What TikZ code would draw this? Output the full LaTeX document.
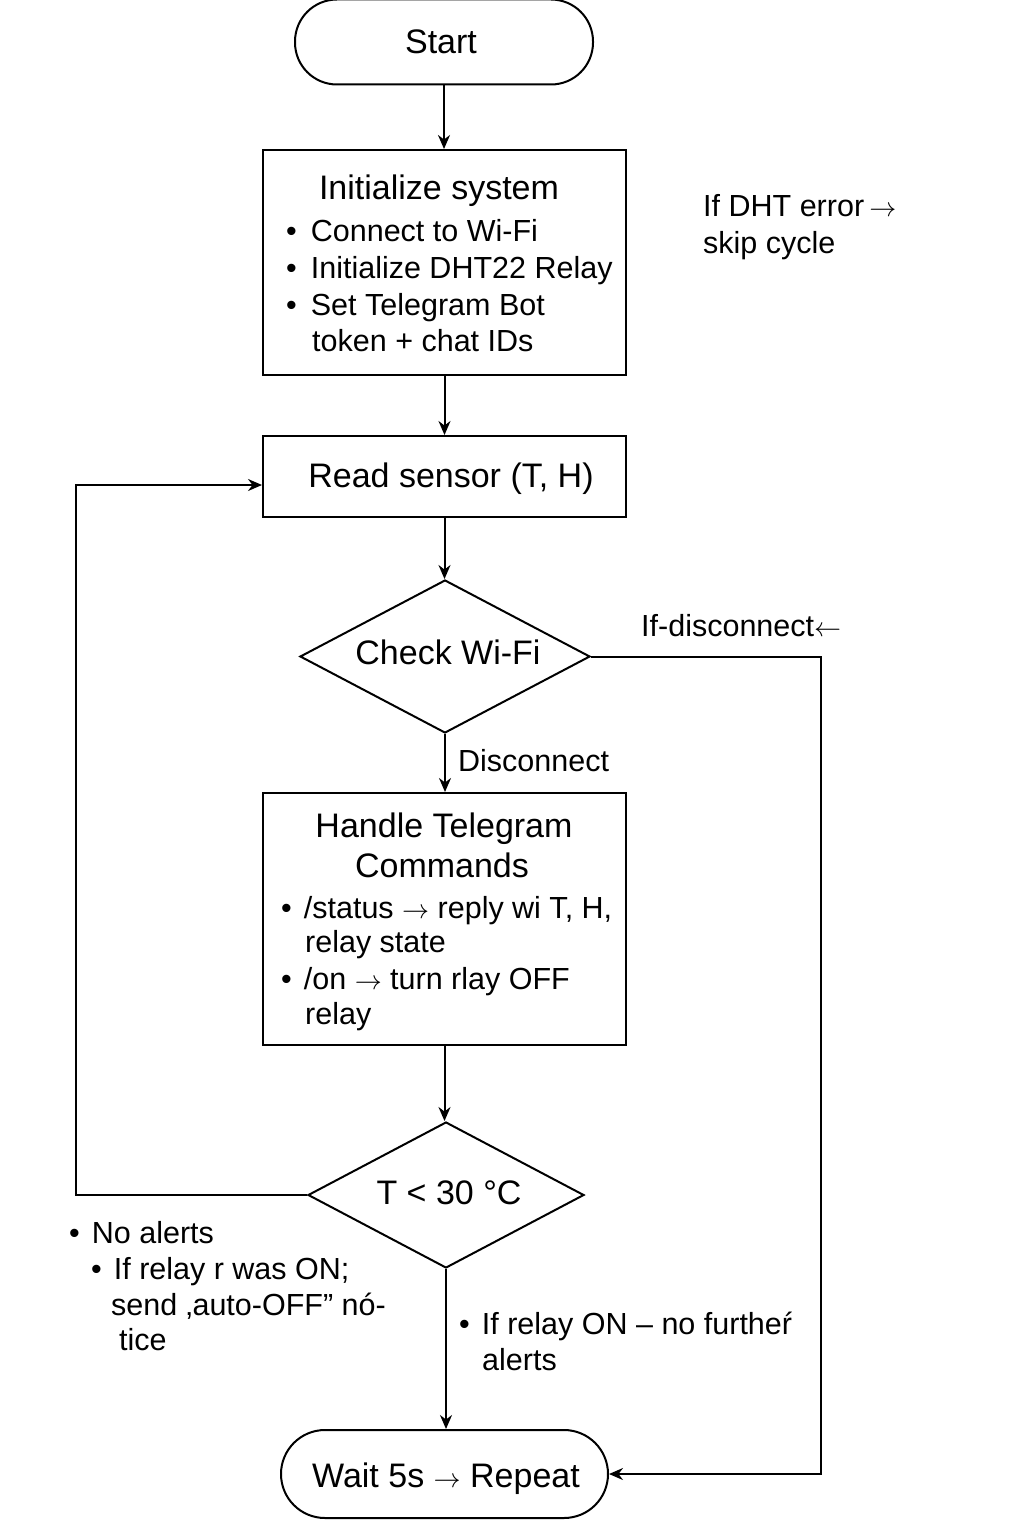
\documentclass[tikz,border=0pt]{standalone}
\usepackage{fontspec}
\usepackage{graphicx}
\setmainfont{Liberation Sans}
\newcommand{\ra}{\resizebox{27pt}{!}{$\rightarrow$}}
\newcommand{\la}{\resizebox{27pt}{!}{$\leftarrow$}}
\usetikzlibrary{shapes.geometric,arrows.meta,calc}
\begin{document}
\begin{tikzpicture}[x=1pt,y=-1pt,
 box/.style={draw, line width=2pt, minimum width=363pt, inner sep=0pt},
 term/.style={draw, line width=2pt, inner sep=0pt},
 dia/.style={draw, diamond, line width=2pt, inner sep=0pt},
 big/.style={font=\fontsize{34}{40}\selectfont, inner sep=0pt, anchor=base},
 txt/.style={font=\fontsize{30.5}{36}\selectfont, inner sep=0pt, anchor=base west},
 arr/.style={-{Stealth[length=14pt,width=12pt]}, line width=2pt},
 ln/.style={line width=2pt}]
\path[use as bounding box] (0,0) rectangle (1024,1536);

% shapes
\node[term, minimum width=298pt, minimum height=85pt, rounded corners=42pt] (start) at (444,42) {};
\node[box, minimum height=225pt] (init) at (444.5,262.5) {};
\node[box, minimum height=81pt] (read) at (444.5,476.5) {};
\node[dia, minimum width=290pt, minimum height=153pt] (wifi) at (445,656.5) {};
\node[box, minimum height=252pt] (handle) at (444.5,919) {};
\node[dia, minimum width=276pt, minimum height=146pt] (temp) at (446,1195) {};
\node[term, minimum width=327pt, minimum height=88pt, rounded corners=44pt] (wait) at (444.5,1474) {};

% texts
\node[big] (tstart) at (441,54) {Start};
\node[big] (tinit) at (439,199) {Initialize system};
\node[txt] (i1) at (286,241) {•\hspace{14pt}Connect to Wi-Fi};
\node[txt] (i2) at (286,278) {•\hspace{14pt}Initialize DHT22 Relay};
\node[txt] (i3) at (286,315) {•\hspace{14pt}Set Telegram Bot};
\node[txt] (i4) at (312,351) {token + chat IDs};
\node[big] (tread) at (451,487) {Read sensor (T, H)};
\node[big] (twifi) at (448,664) {Check Wi-Fi};
\node[txt] (tdisc) at (458,771) {Disconnect};
\node[big] (th1) at (444,837) {Handle Telegram};
\node[big] (th2) at (442,877) {Commands};
\node[txt] (h1) at (281,918) {•\hspace{12pt}/status \ra{} reply wi T, H,};
\node[txt] (h2) at (305,952) {relay state};
\node[txt] (h3) at (281,989) {•\hspace{12pt}/on \ra{} turn rlay OFF};
\node[txt] (h4) at (305,1024) {relay};
\node[big] (ttemp) at (449,1204) {T < 30 °C};
\node[big] (twait) at (446,1487) {Wait 5s \ra{} Repeat};

\node[txt] (dht1) at (703,216) {If DHT error\,\ra};
\node[txt] (dht2) at (703,253) {skip cycle};
\node[txt] (ifd) at (641,636) {If-disconnect\la};
\node[txt] (n1) at (69,1243) {•\hspace{12pt}No alerts};
\node[txt] (n2) at (91,1279) {•\hspace{12pt}If relay r was ON;};
\node[txt] (n3) at (111,1315) {send ‚auto-OFF” nó-};
\node[txt] (n4) at (119,1350) {tice};
\node[txt] (r1) at (459,1334) {•\hspace{12pt}If relay ON – no furtheŕ};
\node[txt] (r2) at (482,1370) {alerts};

% connectors
\draw[arr] (start.south) -- (start.south |- init.north);
\draw[arr] (init.south) -- (init.south |- read.north);
\draw[arr] (read.south) -- (read.south |- wifi.north);
\draw[arr] (wifi.south) -- (wifi.south |- handle.north);
\draw[arr] (handle.south) -- (handle.south |- temp.north);
\draw[arr] (temp.south) -- (temp.south |- wait.north);
\coordinate (rc) at (821,0);
\coordinate (lc) at (76,0);
\coordinate (rin) at ($(read.west)+(0,8.5)$);
\draw[arr] (wifi.east) -| (rc |- wait.east) -- (wait.east);
\draw[arr] (temp.west) -| (lc |- rin) -- (rin);
\end{tikzpicture}
\end{document}
